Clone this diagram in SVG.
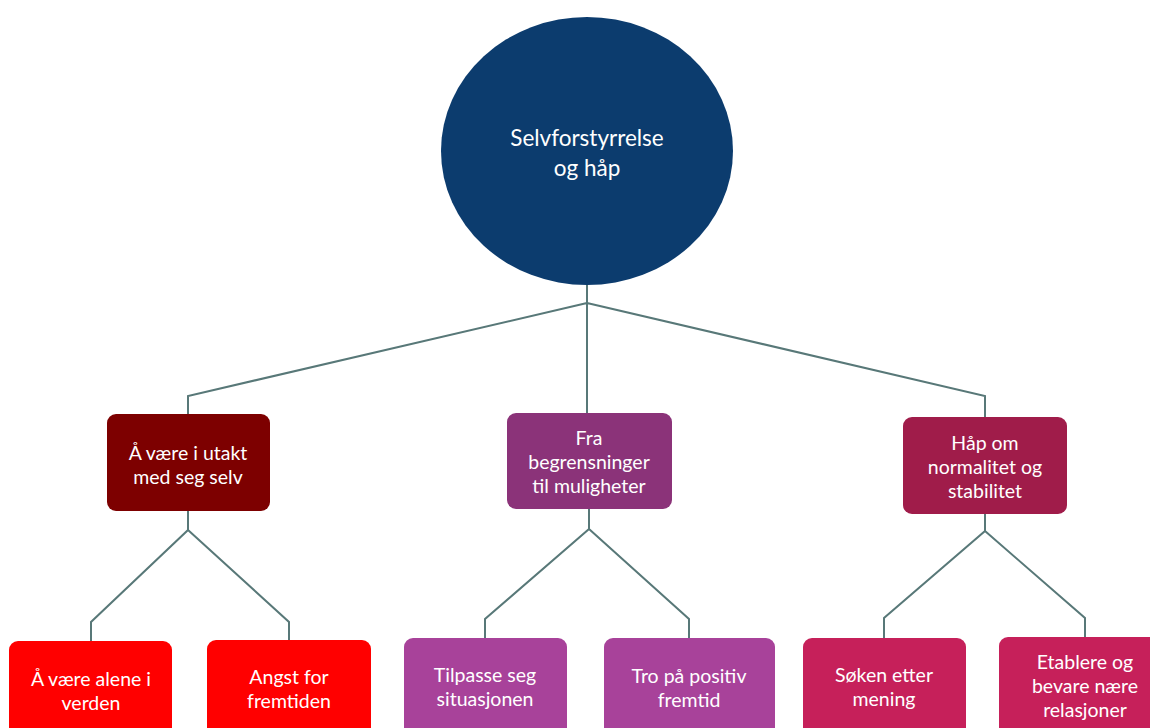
<svg xmlns="http://www.w3.org/2000/svg" width="1150" height="728" viewBox="0 0 1150 728">
<style>
text{font-family:Lato,"Open Sans","Liberation Sans",sans-serif;fill:#fff;text-anchor:middle;font-size:19.5px}
.big{font-size:22.5px}
.conn{fill:none;stroke:#587878;stroke-width:2;stroke-linejoin:miter}
</style>
<rect width="1150" height="728" fill="#fff"/>
<g id="connectors">
<path class="conn" d="M587 285V303M587 303L188 396V414M587 303V413M587 303L985 396V417"/>
<path class="conn" d="M188 511V530L91 622V641M188 530L289 622V640"/>
<path class="conn" d="M589 509V529L485 619V638M589 529L689 619V638"/>
<path class="conn" d="M985 514V531L884 618V638M985 531L1085 618V637"/>
</g>
<g id="root">
<ellipse cx="587" cy="151" rx="146" ry="134" fill="#0c3c6e"/>
<text class="big" x="587" y="146">Selvforstyrrelse</text>
<text class="big" x="587" y="176">og håp</text>
</g>
<g id="n1">
<rect x="107" y="414" width="163" height="97" rx="9" fill="#7d0000"/>
<text x="188" y="460">Å være i utakt</text>
<text x="188" y="484">med seg selv</text>
</g>
<g id="n2">
<rect x="507" y="413" width="165" height="96" rx="9" fill="#8b3379"/>
<text x="589" y="445">Fra</text>
<text x="589" y="469">begrensninger</text>
<text x="589" y="493">til muligheter</text>
</g>
<g id="n3">
<rect x="903" y="417" width="164" height="97" rx="9" fill="#a01c4a"/>
<text x="985" y="450">Håp om</text>
<text x="985" y="474">normalitet og</text>
<text x="985" y="498">stabilitet</text>
</g>
<g id="n1a">
<rect x="9" y="641" width="163" height="110" rx="9" fill="#ff0000"/>
<text x="91" y="686">Å være alene i</text>
<text x="91" y="710">verden</text>
</g>
<g id="n1b">
<rect x="207" y="640" width="164" height="110" rx="9" fill="#ff0000"/>
<text x="289" y="684">Angst for</text>
<text x="289" y="708">fremtiden</text>
</g>
<g id="n2a">
<rect x="404" y="638" width="163" height="110" rx="9" fill="#a8429a"/>
<text x="485" y="682">Tilpasse seg</text>
<text x="485" y="706">situasjonen</text>
</g>
<g id="n2b">
<rect x="604" y="638" width="171" height="110" rx="9" fill="#a8429a"/>
<text x="689" y="683">Tro på positiv</text>
<text x="689" y="707">fremtid</text>
</g>
<g id="n3a">
<rect x="803" y="638" width="163" height="110" rx="9" fill="#c6205a"/>
<text x="884" y="682">Søken etter</text>
<text x="884" y="706">mening</text>
</g>
<g id="n3b">
<rect x="999" y="637" width="170" height="110" rx="9" fill="#c6205a"/>
<text x="1085" y="669">Etablere og</text>
<text x="1085" y="693">bevare nære</text>
<text x="1085" y="717">relasjoner</text>
</g>
</svg>
